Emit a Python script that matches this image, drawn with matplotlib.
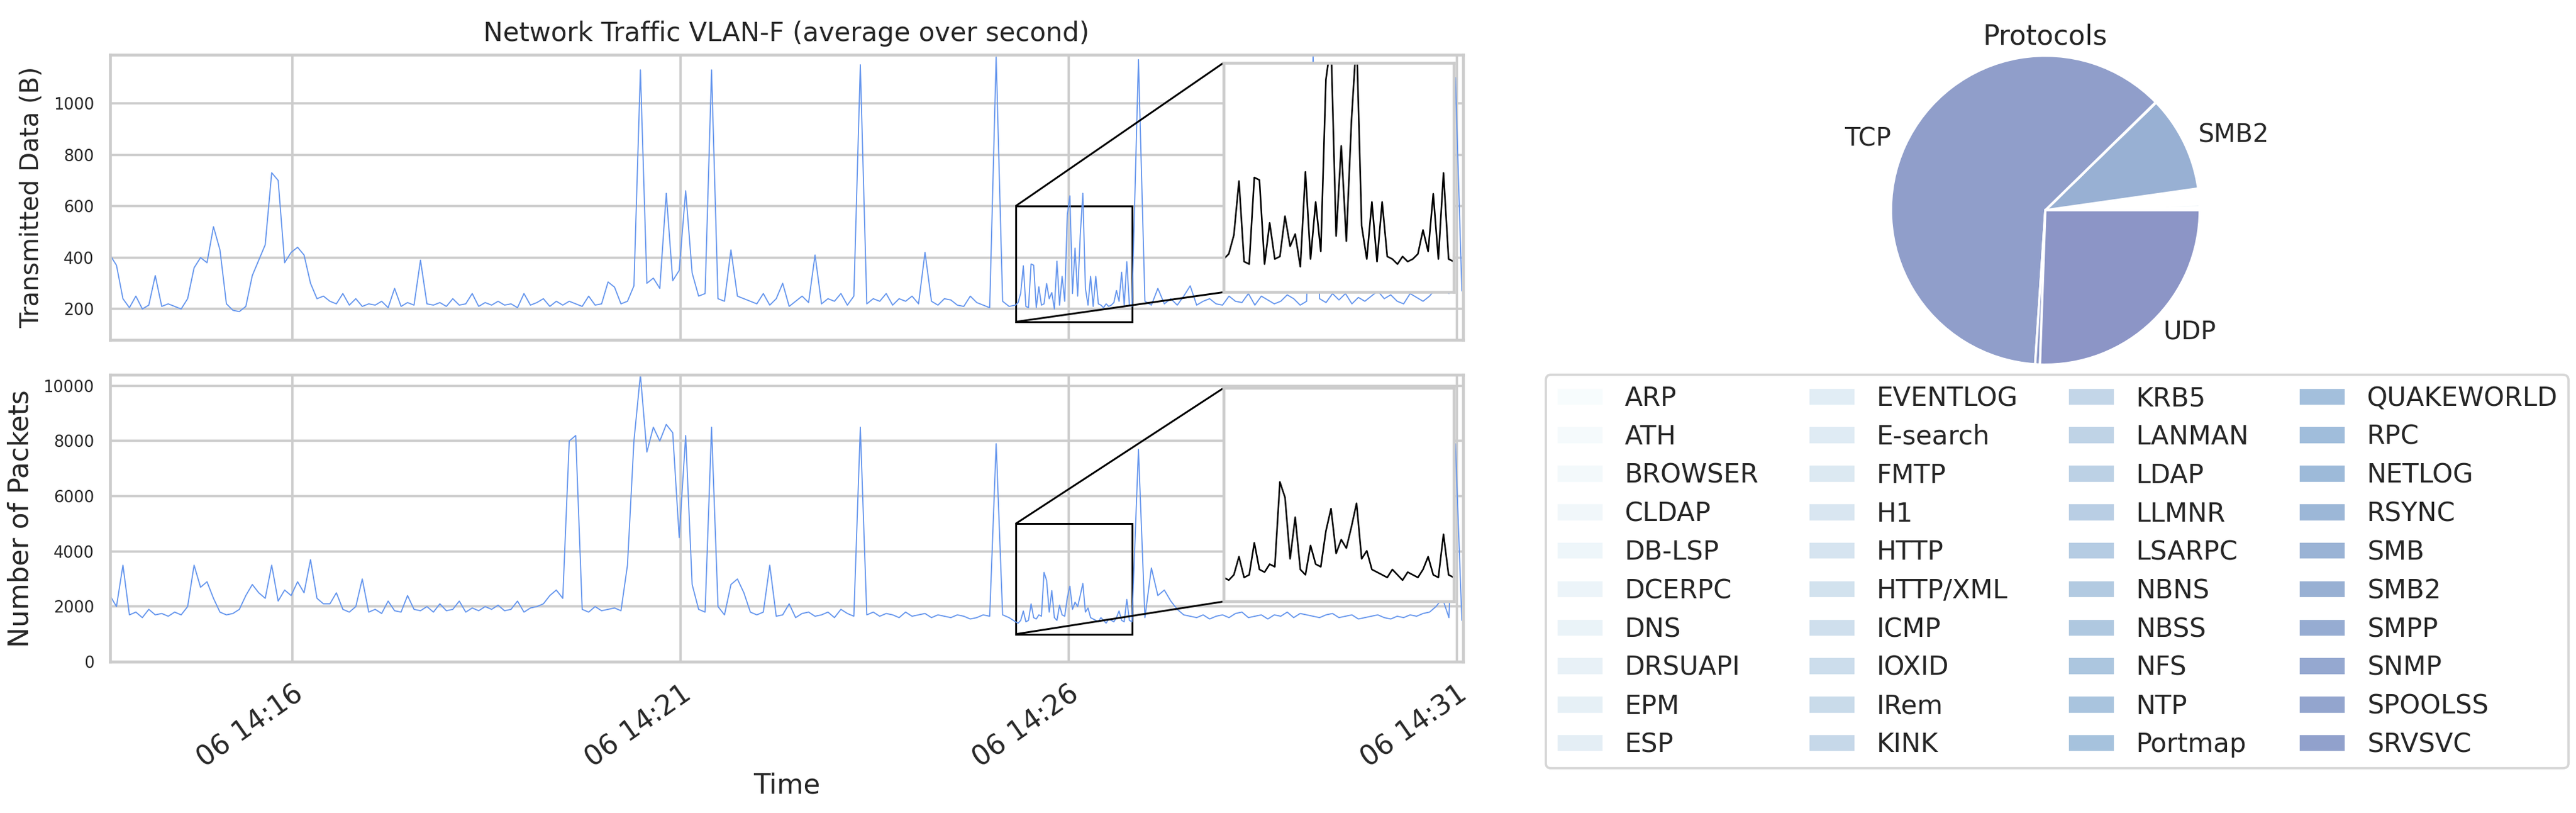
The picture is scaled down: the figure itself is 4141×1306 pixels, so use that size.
import numpy as np
import pandas as pd
import matplotlib
matplotlib.use('Agg')
import matplotlib.pyplot as plt
import matplotlib.dates as mdates
import seaborn as sns
from mpl_toolkits.axes_grid1.inset_locator import mark_inset

sns.set_theme(style='whitegrid')
plt.rcParams['font.family'] = ['DejaVu Sans']

# coarse samples, every 5 s from 14:13:39
start = pd.Timestamp('2019-03-06 14:13:39')
bytes_coarse = [
    410, 370, 240, 205, 250, 200, 215, 330, 210, 220,
    210, 200, 240, 360, 400, 380, 520, 430, 220, 195,
    190, 210, 330, 390, 450, 730, 700, 380, 420, 440,
    410, 300, 240, 250, 230, 220, 260, 215, 240, 210,
    220, 215, 230, 205, 280, 210, 225, 215, 390, 220,
    215, 225, 210, 240, 215, 220, 260, 210, 225, 215,
    230, 215, 220, 205, 260, 215, 225, 240, 210, 230,
    215, 230, 220, 210, 250, 215, 220, 305, 285, 220,
    230, 290, 1130, 300, 320, 280, 650, 310, 350, 660,
    340, 250, 260, 1130, 240, 230, 430, 250, 240, 230,
    220, 260, 215, 240, 300, 210, 230, 250, 225, 410,
    220, 240, 230, 260, 215, 250, 1150, 220, 240, 230,
    260, 215, 240, 230, 250, 220, 420, 230, 215, 240,
    235, 215, 210, 250, 225, 215, 205, 1180, 230, 210,
    230, 215, 260, 240, 300, 250, 480, 680, 450, 680,
    320, 290, 250, 260, 215, 300, 230, 240, 350, 1170,
    230, 215, 280, 220, 240, 215, 250, 290, 215, 230,
    240, 220, 215, 250, 230, 225, 260, 215, 250, 235,
    220, 230, 255, 240, 215, 230, 1190, 240, 225, 260,
    235, 260, 220, 245, 230, 250, 270, 240, 255, 230,
    220, 260, 245, 230, 250, 280, 290, 260, 1100, 270,
]
packets_coarse = [
    2400, 2000, 3500, 1700, 1800, 1600, 1900, 1700, 1750, 1650,
    1800, 1700, 2000, 3500, 2700, 2900, 2300, 1800, 1700, 1750,
    1900, 2400, 2800, 2500, 2300, 3500, 2200, 2600, 2400, 2900,
    2500, 3700, 2300, 2100, 2100, 2500, 1900, 1800, 2000, 3000,
    1800, 1900, 1750, 2200, 1850, 1800, 2400, 1900, 1850, 2000,
    1800, 2100, 1850, 1900, 2200, 1800, 1950, 1850, 2000, 1900,
    2050, 1850, 1900, 2200, 1800, 1950, 2000, 2100, 2400, 2600,
    2300, 8000, 8200, 1900, 1800, 2000, 1850, 1900, 1950, 1850,
    3500, 8000, 10400, 7600, 8500, 8000, 8600, 8300, 4500, 8200,
    2800, 1900, 1800, 8500, 2000, 1700, 2800, 3000, 2500, 1800,
    1700, 1800, 3500, 1650, 1700, 2100, 1600, 1750, 1800, 1650,
    1700, 1800, 1600, 1900, 1750, 1650, 8500, 1700, 1800, 1650,
    1750, 1700, 1600, 1800, 1650, 1700, 1750, 1600, 1700, 1650,
    1600, 1700, 1650, 1550, 1600, 1700, 1650, 7900, 1700, 1600,
    1500, 1700, 1650, 1600, 1800, 2800, 2400, 2300, 3300, 2000,
    1700, 1600, 1650, 1500, 1700, 1600, 2000, 1800, 1700, 7700,
    1600, 3400, 2400, 2600, 2200, 1900, 1700, 1650, 1600, 1700,
    1550, 1650, 1700, 1600, 1750, 1800, 1600, 1650, 1700, 1550,
    1700, 1650, 1800, 1600, 1750, 1700, 1650, 1600, 1700, 1750,
    1600, 1650, 1700, 1550, 1600, 1650, 1700, 1600, 1550, 1650,
    1600, 1700, 1650, 1750, 1800, 2000, 2300, 1600, 7900, 1500,
]
# finer samples (every 2 s) inside the zoomed window, 700 s .. 790 s after start
window_start, window_end = 700, 790
bytes_fine = [
    215, 225, 262, 368, 210, 205, 375, 370, 205, 286,
    215, 220, 299, 240, 264, 200, 386, 215, 327, 230,
    567, 640, 260, 437, 250, 486, 650, 280, 215, 327,
    210, 327, 220, 215, 205, 220, 210, 215, 225, 272,
    230, 343, 215, 384, 215, 210,
]
packets_fine = [
    1450, 1400, 1500, 1840, 1450, 1500, 2100, 1600, 1550, 1700,
    1650, 3240, 2950, 1800, 2580, 1600, 1500, 2050, 1700, 1650,
    2320, 2740, 1900, 2160, 2000, 2400, 2840, 1800, 1950, 1600,
    1550, 1500, 1450, 1600, 1500, 1400, 1550, 1500, 1450, 1600,
    1840, 1500, 1450, 2260, 1500, 1450,
]

protocols = ['ARP', 'ATH', 'BROWSER', 'CLDAP', 'DB-LSP', 'DCERPC', 'DNS', 'DRSUAPI', 'EPM', 'ESP',
             'EVENTLOG', 'E-search', 'FMTP', 'H1', 'HTTP', 'HTTP/XML', 'ICMP', 'IOXID', 'IRem', 'KINK',
             'KRB5', 'LANMAN', 'LDAP', 'LLMNR', 'LSARPC', 'NBNS', 'NBSS', 'NFS', 'NTP', 'Portmap',
             'QUAKEWORLD', 'RPC', 'NETLOG', 'RSYNC', 'SMB', 'SMB2', 'SMPP', 'SNMP', 'SPOOLSS', 'SRVSVC',
             'TCP', 'TLS', 'UDP']
shares = [0.05, 0.02, 0.08, 0.03, 0.02, 0.1, 0.3, 0.05, 0.05, 0.02,
          0.02, 0.02, 0.02, 0.02, 0.2, 0.03, 0.05, 0.02, 0.02, 0.02,
          0.08, 0.03, 0.15, 0.1, 0.03, 0.15, 0.2, 0.05, 0.03, 0.02,
          0.02, 0.05, 0.02, 0.02, 0.15, 10.0, 0.01, 0.02, 0.01, 0.01,
          61.5, 0.5, 25.5]
shown_labels = ['TCP', 'SMB2', 'UDP']


def build_series(coarse, fine):
    t_c = np.arange(len(coarse)) * 5
    t_f = np.arange(len(fine)) * 2 + window_start
    keep = (t_c < window_start) | (t_c > window_end)
    t = np.concatenate([t_c[keep], t_f])
    v = np.concatenate([np.array(coarse)[keep], fine])
    order = np.argsort(t)
    return start + pd.to_timedelta(t[order], unit='s'), v[order]


fig = plt.figure(figsize=(4141 / 264, 1306 / 264), dpi=264)
ax1 = fig.add_axes([0.0427, 0.582, 0.5253, 0.351])
ax2 = fig.add_axes([0.0427, 0.186, 0.5253, 0.353], sharex=ax1)

blue = '#6495ed'
t_end = start + pd.Timedelta(seconds=1046)
w0 = start + pd.Timedelta(seconds=window_start)
w1 = start + pd.Timedelta(seconds=window_end)

panels = [
    (ax1, bytes_coarse, bytes_fine, (80, 1190), (150, 600), [0.823, 0.167, 0.17, 0.804],
     'Transmitted Data (B)', 11),
    (ax2, packets_coarse, packets_fine, (0, 10400), (1000, 5000), [0.823, 0.21, 0.17, 0.744],
     'Number of Packets', 12),
]
for ax, coarse, fine, ylim, zlim, rect, ylabel, lsize in panels:
    t, v = build_series(coarse, fine)
    ax.plot(t, v, color=blue, lw=0.5)
    ax.set_ylim(*ylim)
    ax.set_xlim(start, t_end)
    ax.set_ylabel(ylabel, fontsize=lsize)
    ax.tick_params(axis='y', labelsize=7, pad=1)
    axins = ax.inset_axes(rect)
    axins.set_facecolor('white')
    axins.plot(t, v, color='black', lw=0.7)
    axins.set_xlim(w0, w1)
    axins.set_ylim(*zlim)
    axins.set_xticks([])
    axins.set_yticks([])
    axins.grid(False)
    mark_inset(ax, axins, loc1=2, loc2=3, fc='none', ec='black', lw=0.8)

ax1.set_title('Network Traffic VLAN-F (average over second)', fontsize=11.5)
ax1.tick_params(axis='x', labelbottom=False)
ax2.xaxis.set_major_locator(mdates.MinuteLocator(byminute=[16, 21, 26, 31]))
ax2.xaxis.set_major_formatter(mdates.DateFormatter('%d %H:%M'))
plt.setp(ax2.get_xticklabels(), rotation=35, ha='right', rotation_mode='anchor', fontsize=12)
ax2.tick_params(axis='x', pad=2)
ax2.set_xlabel('Time', fontsize=12, labelpad=0)

# protocol pie
axp = fig.add_axes([0.719, 0.504, 0.15, 0.475])
colors = plt.cm.BuPu(np.linspace(0.0, 0.5, len(protocols)))
pie_labels = [p if p in shown_labels else '' for p in protocols]
wedges, _ = axp.pie(shares, colors=colors, startangle=0, counterclock=True,
                    labels=pie_labels, labeldistance=1.1, textprops=dict(fontsize=11),
                    wedgeprops=dict(edgecolor='white', linewidth=1))
fig.text(0.794, 0.955, 'Protocols', ha='center', va='center', fontsize=12)
axp.set_aspect('equal')

fig.legend(wedges[:40], protocols[:40], ncol=4, fontsize=11.5, loc='upper left',
           bbox_to_anchor=(0.595, 0.555), frameon=True, handlelength=1.8,
           columnspacing=1.9, labelspacing=0.47)

plt.savefig('out.png', dpi=264)
